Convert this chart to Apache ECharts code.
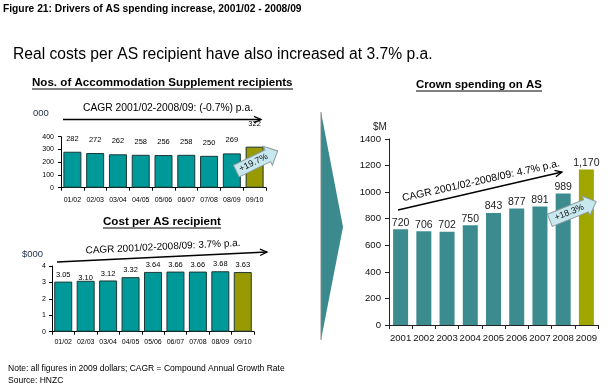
<!DOCTYPE html>
<html><head><meta charset="utf-8">
<script src="https://cdn.jsdelivr.net/npm/echarts@6/dist/echarts.min.js"></script>
<style>html,body{margin:0;padding:0;background:#fff}#c{width:610px;height:390px}</style>
</head><body><div id="c"></div>
<script>
// ---- data ----
const recipientCats = ['01/02','02/03','03/04','04/05','05/06','06/07','07/08','08/09','09/10'];
const recipientValues = [282,272,262,258,256,258,250,269,322];
const costCats = ['01/02','02/03','03/04','04/05','05/06','06/07','07/08','08/09','09/10'];
const costValues = [3.05,3.10,3.12,3.32,3.64,3.66,3.66,3.68,3.63];
const costLabels = ['3.05','3.10','3.12','3.32','3.64','3.66','3.66','3.68','3.63'];
const spendingYears = ['2001','2002','2003','2004','2005','2006','2007','2008','2009'];
const spendingValues = [720,706,702,750,843,877,891,989,1170];
const spendingLabels = ['720','706','702','750','843','877','891','989','1,170'];

const FAM = '"Liberation Sans", Arial, sans-serif';
const TEAL = '#009999', TEAL2 = '#3c8b8f', OLIVE = '#999900', OLIVE2 = '#a0a600';
const ctx = document.createElement('canvas').getContext('2d');
function fit(text, weight, target){ ctx.font = weight + ' 100px ' + FAM; return 100 * target / ctx.measureText(text).width; }

const G = [];
function txt(text, x, y, size, weight, opts){
  opts = opts || {};
  G.push({type:'text', x:x, y:y, rotation:opts.rot||0, z:50,
    style:{text:text, x:0, y:0, fontSize:size, fontWeight:weight, fontFamily:FAM, fill:opts.fill||'#000',
      align:opts.align||'left', verticalAlign:'middle'}});
}
function titleU(text, x1, x2, yc, yu){
  const s = fit(text, 'bold', x2 - x1);
  txt(text, x1, yc, s, 'bold');
  G.push({type:'line', z:50, shape:{x1:x1, y1:yu, x2:x2, y2:yu}, style:{stroke:'#000', lineWidth:1}});
}
function arrow(x1,y1,x2,y2){
  const a = Math.atan2(y2-y1, x2-x1), L = 7, W = 3.2, c = Math.cos(a), s = Math.sin(a);
  G.push({type:'line', z:50, shape:{x1:x1,y1:y1,x2:x2,y2:y2}, style:{stroke:'#000', lineWidth:1.3}});
  G.push({type:'polyline', z:50, shape:{points:[[x2-L*c+W*s, y2-L*s-W*c],[x2,y2],[x2-L*c-W*s, y2-L*s+W*c]]},
    style:{stroke:'#000', lineWidth:1.3, fill:null}});
}
function callout(text, cx, cy, len, deg){
  const h = len/2;
  G.push({type:'group', x:cx, y:cy, rotation:deg*Math.PI/180, z:60, children:[
    {type:'polygon', z:60, shape:{points:[[-h,-6.5],[h-11,-6.5],[h-11,-10.5],[h,0],[h-11,10.5],[h-11,6.5],[-h,6.5]]},
      style:{fill:'#c8e8ef', stroke:'#8a9ca0', lineWidth:1}},
    {type:'text', z:61, style:{text:text, x:-4, y:0, fontSize:9, fontFamily:FAM, fill:'#111', align:'center', verticalAlign:'middle'}}
  ]});
}

// header texts
const h1 = 'Figure 21: Drivers of AS spending increase, 2001/02 - 2008/09';
txt(h1, 3, 9, fit(h1,'bold',299), 'bold');
const h2 = 'Real costs per AS recipient have also increased at 3.7% p.a.';
txt(h2, 13, 55, fit(h2,'normal',420), 'normal');
titleU('Nos. of Accommodation Supplement recipients', 32, 293, 83, 89);
titleU('Cost per AS recipient', 103, 221, 222, 228);
titleU('Crown spending on AS', 416, 542, 85, 91);
txt('000', 33, 113, 9.5, 'normal', {fill:'#1f2f4f'});
txt('$000', 22, 254, 9.5, 'normal', {fill:'#1f2f4f'});
txt('$M', 373, 127, 10, 'normal', {fill:'#222'});

// CAGR annotations
txt('CAGR 2001/02-2008/09: (-0.7%) p.a.', 168, 108, 10.3, 'normal', {align:'center'});
arrow(63, 119.5, 261, 119.5);
txt('CAGR 2001/02-2008/09: 3.7% p.a.', 163, 247, 10, 'normal', {align:'center', rot:2.8*Math.PI/180});
arrow(57, 262, 267, 252);
txt('CAGR 2001/02-2008/09: 4.7% p.a.', 481, 181, 10.4, 'normal', {align:'center', rot:12.6*Math.PI/180});
arrow(398, 210, 562, 172);

// chevron
G.push({type:'polygon', z:5, shape:{points:[[321,112],[343,227],[321,340]]}, style:{fill:'#3b8a8e'}});
G.push({type:'line', z:6, shape:{x1:321,y1:112,x2:321,y2:340}, style:{stroke:'#8a8a8a', lineWidth:1}});

// callouts
callout('+19.7%', 257, 161, 46, 26);
callout('+18.3%', 573, 211, 50, 22);

// footnote
const n1 = 'Note: all figures in 2009 dollars; CAGR = Compound Annual Growth Rate';
const ns = fit(n1, 'normal', 277);
txt(n1, 8, 369, ns, 'normal');
txt('Source: HNZC', 8, 381, ns, 'normal');

function colored(vals, base, last, extra){
  return vals.map((v,i) => {
    const o = {value:v, itemStyle:{color: i === vals.length-1 ? last : base}};
    if (extra) Object.assign(o, extra(i));
    return o;
  });
}
const axLine = c => ({show:true, lineStyle:{color:c, width:1}});
const plain = v => String(v);

const option = {
  animation:false,
  grid:[
    {left:61, top:136.7, width:205, height:51},
    {left:52, top:266, width:202, height:65.7},
    {left:389, top:139, width:209, height:186}
  ],
  xAxis:[
    {gridIndex:0, type:'category', data:recipientCats, axisLine:axLine('#000'), axisTick:{show:true, length:3, lineStyle:{color:'#000'}},
      axisLabel:{interval:0, fontSize:7, fontFamily:FAM, color:'#000', margin:9}},
    {gridIndex:1, type:'category', data:costCats, axisLine:axLine('#000'), axisTick:{show:true, length:3, lineStyle:{color:'#000'}},
      axisLabel:{interval:0, fontSize:7, fontFamily:FAM, color:'#000', margin:7}},
    {gridIndex:2, type:'category', data:spendingYears, axisLine:axLine('#222'), axisTick:{show:true, length:4, lineStyle:{color:'#222'}},
      axisLabel:{interval:0, fontSize:9.6, fontFamily:FAM, color:'#111', margin:8}}
  ],
  yAxis:[
    {gridIndex:0, type:'value', min:0, max:400, interval:100, splitLine:{show:false}, axisLine:axLine('#000'),
      axisTick:{show:true, length:3, lineStyle:{color:'#000'}}, axisLabel:{fontSize:7, fontFamily:FAM, color:'#000', margin:7, formatter:plain}},
    {gridIndex:1, type:'value', min:0, max:4, interval:1, splitLine:{show:false}, axisLine:axLine('#000'),
      axisTick:{show:true, length:3, lineStyle:{color:'#000'}}, axisLabel:{fontSize:7, fontFamily:FAM, color:'#000', margin:6, formatter:plain}},
    {gridIndex:2, type:'value', min:0, max:1400, interval:200, splitLine:{show:false}, axisLine:axLine('#222'),
      axisTick:{show:true, length:4, lineStyle:{color:'#222'}}, axisLabel:{fontSize:9.6, fontFamily:FAM, color:'#111', margin:8, formatter:plain}}
  ],
  series:[
    {type:'bar', xAxisIndex:0, yAxisIndex:0, barWidth:18, z:2,
      data: colored(recipientValues, TEAL, OLIVE, i => i === recipientValues.length-1 ? {label:{distance:19}} : {}),
      itemStyle:{borderColor:'#1d3838', borderWidth:1},
      label:{show:true, position:'top', distance:9, fontSize:7.5, fontFamily:FAM, color:'#000'}},
    {type:'bar', xAxisIndex:1, yAxisIndex:1, barWidth:18, z:2,
      data: colored(costValues, TEAL, OLIVE, i => i === 1 ? {label:{distance:-1}} : {}),
      itemStyle:{borderColor:'#1d3838', borderWidth:1},
      label:{show:true, position:'top', distance:3, fontSize:7.5, fontFamily:FAM, color:'#000',
        formatter: p => costLabels[p.dataIndex]}},
    {type:'bar', xAxisIndex:2, yAxisIndex:2, barWidth:15, z:2,
      data: colored(spendingValues, TEAL2, OLIVE2),
      label:{show:true, position:'top', distance:1, fontSize:10.5, fontFamily:FAM, color:'#222',
        formatter: p => spendingLabels[p.dataIndex]}}
  ],
  graphic: G
};
const chart = echarts.init(document.getElementById('c'), null, {renderer:'canvas'});
chart.setOption(option);
</script></body></html>
